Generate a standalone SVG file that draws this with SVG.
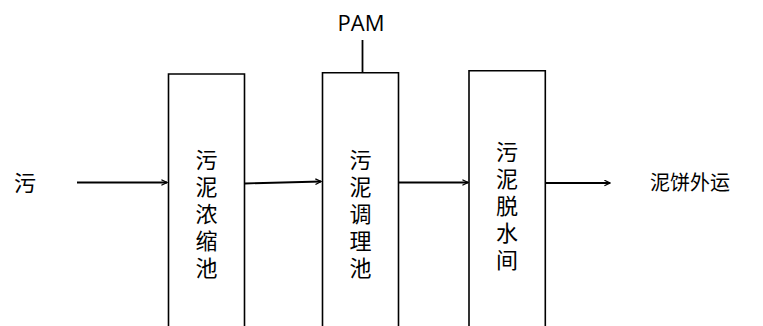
<svg xmlns="http://www.w3.org/2000/svg" width="763" height="326" viewBox="0 0 763 326">
<style>
.box{fill:#fff;stroke:#000;stroke-width:1.6}
.ln{stroke:#000;stroke-width:1.8;fill:none}
.cj{font-family:"Noto Sans CJK SC",sans-serif;font-size:22px;fill:#000;text-anchor:middle}
.lt{font-family:"Open Sans","Liberation Sans",sans-serif;font-size:22px;fill:#000;text-anchor:middle}
</style>
<defs>
<marker id="ah" viewBox="0 0 10 10" refX="9" refY="5" markerWidth="7" markerHeight="7" orient="auto" markerUnits="userSpaceOnUse">
<path d="M1,1 L9,5 L1,9" fill="none" stroke="#000" stroke-width="1.8"/>
</marker>
</defs>
<rect width="763" height="326" fill="#fff"/>
<g id="connectors">
<line class="ln" x1="77" y1="182.5" x2="167" y2="182.5" marker-end="url(#ah)"/>
<line class="ln" x1="245" y1="183.5" x2="321" y2="181.5" marker-end="url(#ah)"/>
<line class="ln" x1="398" y1="182.5" x2="468" y2="182.5" marker-end="url(#ah)"/>
<line class="ln" x1="545" y1="183" x2="610" y2="183" marker-end="url(#ah)"/>
<line class="ln" x1="362.5" y1="40" x2="362.5" y2="73"/>
</g>
<g id="source"><text class="cj" x="25" y="191">污</text></g>
<g id="pam"><text class="lt" x="361" y="31">PAM</text></g>
<g id="thickener">
<path class="box" d="M168.5,327 V74 H244.5 V327"/>
<text class="cj" x="206.5" y="168">污</text>
<text class="cj" x="206.5" y="195">泥</text>
<text class="cj" x="206.5" y="222">浓</text>
<text class="cj" x="206.5" y="249">缩</text>
<text class="cj" x="206.5" y="276">池</text>
</g>
<g id="conditioning">
<path class="box" d="M322.5,327 V72.7 H398.5 V327"/>
<text class="cj" x="360.5" y="168">污</text>
<text class="cj" x="360.5" y="195">泥</text>
<text class="cj" x="360.5" y="222">调</text>
<text class="cj" x="360.5" y="249">理</text>
<text class="cj" x="360.5" y="276">池</text>
</g>
<g id="dewatering">
<path class="box" d="M469,327 V70.7 H545.3 V327"/>
<text class="cj" x="507" y="160">污</text>
<text class="cj" x="507" y="187">泥</text>
<text class="cj" x="507" y="214">脱</text>
<text class="cj" x="507" y="241">水</text>
<text class="cj" x="507" y="268">间</text>
</g>
<g id="cake"><text class="cj" x="690" y="190" style="font-size:20px">泥饼外运</text></g>
</svg>
